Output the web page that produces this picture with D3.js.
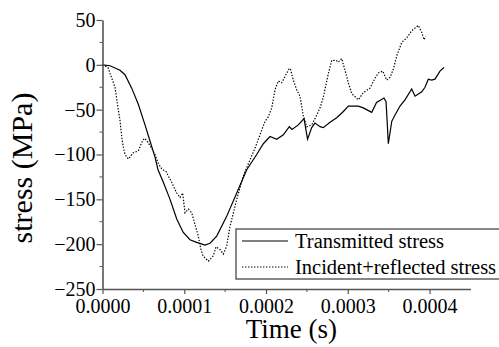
<!DOCTYPE html>
<html>
<head>
<meta charset="utf-8">
<script src="https://cdn.jsdelivr.net/npm/d3@7"></script>
<style>
  body { margin: 0; background: #fff; }
  svg text { font-family: "Liberation Serif", "Times New Roman", serif; }
</style>
</head>
<body>
<div id="chart"></div>
<script>
// time in units of 1e-4 s, stress in MPa
const transTime = [0, 0.092, 0.214, 0.275, 0.357, 0.438, 0.52, 0.581, 0.642, 0.679, 0.744, 0.826, 0.908, 0.988,
  1.07, 1.152, 1.254, 1.315, 1.397, 1.519, 1.642, 1.764, 1.886, 1.967, 2.049, 2.131, 2.212, 2.285, 2.318,
  2.395, 2.465, 2.508, 2.559, 2.599, 2.661, 2.701, 2.783, 2.865, 2.946, 3.007, 3.129, 3.19, 3.293, 3.352,
  3.443, 3.468, 3.48, 3.496, 3.538, 3.578, 3.639, 3.7, 3.782, 3.823, 3.905, 3.945, 3.985, 4.027, 4.067,
  4.128, 4.177];
const transStress = [0, -1, -6, -11, -26, -44, -67, -85, -103, -117, -131, -150, -172, -187,
  -195, -198, -201, -199, -191, -169, -143, -117, -100, -88, -80, -83, -78, -69, -72,
  -67, -60, -83, -70, -65, -69, -70, -64, -59, -52, -46, -46, -48, -53, -42,
  -37, -41, -60, -88, -63, -56, -46, -39, -27, -35, -30, -25, -16, -17, -16,
  -7, -3];

const incTime = [0, 0.067, 0.113, 0.153, 0.193, 0.214, 0.235, 0.251, 0.275, 0.316, 0.377, 0.438, 0.483, 0.511,
  0.538, 0.602, 0.642, 0.683, 0.724, 0.777, 0.846, 0.908, 0.948, 0.981, 1.009, 1.05, 1.091, 1.131, 1.172,
  1.201, 1.229, 1.294, 1.355, 1.388, 1.437, 1.478, 1.519, 1.56, 1.642, 1.722, 1.804, 1.865, 1.927, 1.988,
  2.028, 2.07, 2.11, 2.15, 2.192, 2.232, 2.285, 2.3, 2.334, 2.376, 2.416, 2.456, 2.498, 2.559, 2.599,
  2.661, 2.701, 2.762, 2.804, 2.856, 2.884, 2.926, 2.972, 3.007, 3.048, 3.129, 3.19, 3.272, 3.333, 3.374,
  3.428, 3.476, 3.517, 3.557, 3.599, 3.66, 3.721, 3.782, 3.823, 3.863, 3.905, 3.933, 3.953];
const incStress = [0, -3, -15, -25, -50, -62, -80, -90, -100, -105, -98, -96, -86, -82,
  -84, -93, -100, -110, -116, -119, -131, -143, -148, -143, -165, -161, -165, -178, -191,
  -205, -213, -219, -213, -203, -206, -211, -202, -180, -150, -124, -106, -93, -78, -63,
  -58, -48, -28, -18, -20, -13, -4, -5, -17, -28, -35, -57, -69, -67, -60,
  -48, -36, -10, 5, 5, 3, 7, -8, -20, -32, -39, -31, -26, -15, -9,
  -7, -17, -14, -5, 10, 25, 30, 38, 41, 44, 36, 28, 32];

const xTicks = [0, 0.0001, 0.0002, 0.0003, 0.0004];
const yTicks = [50, 0, -50, -100, -150, -200, -250];
const legendLabels = ["Transmitted stress", "Incident+reflected stress"];

const serif = "'Liberation Serif', 'Times New Roman', serif";
const width = 499, height = 347;
const svg = d3.select("#chart").append("svg")
  .attr("width", width)
  .attr("height", height);

const x = d3.scaleLinear().domain([0, 0.00045]).range([102.5, 470.4]);
const y = d3.scaleLinear().domain([-250, 50]).range([289, 20]);

const series = [
  { time: transTime, stress: transStress, dash: null },
  { time: incTime, stress: incStress, dash: "1.4,1.6" }
];

const line = d3.line()
  .x((d) => x(d[0] * 1e-4))
  .y((d) => y(d[1]));

series.forEach((s) => {
  svg.append("path")
    .datum(d3.zip(s.time, s.stress))
    .attr("fill", "none")
    .attr("stroke", "#000")
    .attr("stroke-width", 1.2)
    .attr("stroke-dasharray", s.dash)
    .attr("d", line);
});

// Axes
const xAxis = svg.append("g")
  .attr("transform", `translate(0,${y(-250)})`)
  .call(d3.axisBottom(x).tickValues(xTicks).tickFormat(d3.format(".4f")).tickSize(5).tickSizeOuter(0));
xAxis.append("g").selectAll("line")
  .data(d3.range(0.00005, 0.00045, 0.0001))
  .join("line")
  .attr("x1", (d) => x(d)).attr("x2", (d) => x(d))
  .attr("y1", 0).attr("y2", 3)
  .attr("stroke", "#555");

const yAxis = svg.append("g")
  .attr("transform", `translate(${x(0)},0)`)
  .call(d3.axisLeft(y).tickValues(yTicks).tickSize(6).tickSizeOuter(0));
yAxis.append("g").selectAll("line")
  .data(d3.range(-225, 50, 50))
  .join("line")
  .attr("y1", (d) => y(d)).attr("y2", (d) => y(d))
  .attr("x1", 0).attr("x2", -3)
  .attr("stroke", "#555");

svg.selectAll(".domain").attr("stroke", "#555").attr("stroke-width", 1.6);
svg.selectAll(".tick line").attr("stroke", "#555").attr("stroke-width", 1.2);
svg.selectAll(".tick text")
  .style("font-family", serif)
  .style("font-size", "20px")
  .attr("fill", "#000");
xAxis.selectAll(".tick text").attr("dy", "0.8em");
yAxis.selectAll(".tick text").attr("x", -7);

// Axis titles
svg.append("text")
  .attr("x", (x(0) + x(0.00045)) / 2 + 5)
  .attr("y", 338)
  .attr("text-anchor", "middle")
  .style("font-family", serif)
  .style("font-size", "27px")
  .text("Time (s)");

svg.append("text")
  .attr("transform", "translate(32,168) rotate(-90)")
  .attr("text-anchor", "middle")
  .style("font-family", serif)
  .style("font-size", "30px")
  .text("stress (MPa)");

// Legend
const legend = svg.append("g");
legend.append("rect")
  .attr("x", 236).attr("y", 229)
  .attr("width", 280).attr("height", 50)
  .attr("fill", "#fff")
  .attr("stroke", "#555")
  .attr("stroke-width", 1.4);

legendLabels.forEach((label, i) => {
  const ly = 241 + i * 26;
  legend.append("line")
    .attr("x1", 242).attr("x2", 288)
    .attr("y1", ly).attr("y2", ly)
    .attr("stroke", "#000")
    .attr("stroke-width", 1.1)
    .attr("stroke-dasharray", series[i].dash);
  legend.append("text")
    .attr("x", 295).attr("y", ly + 7)
    .style("font-family", serif)
    .style("font-size", "20.5px")
    .text(label);
});
</script>
</body>
</html>
